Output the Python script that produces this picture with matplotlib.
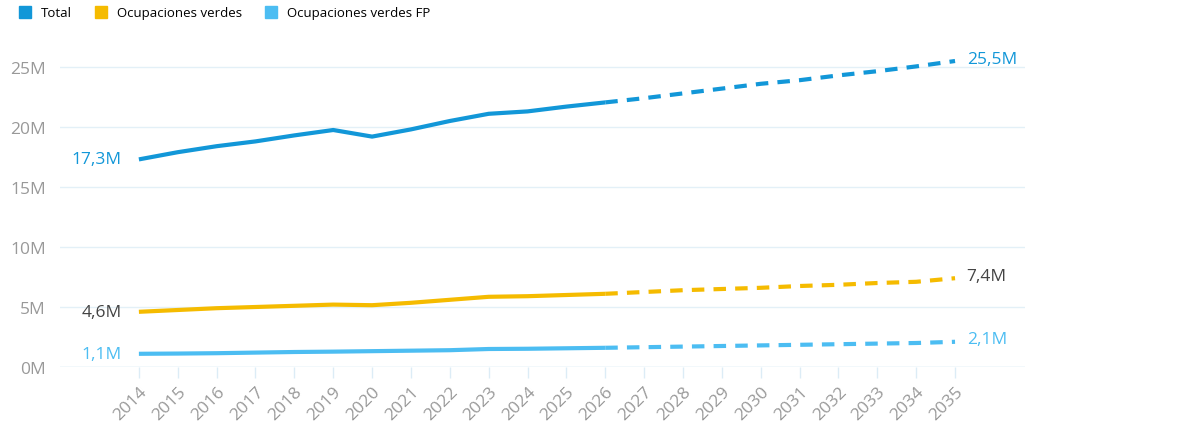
import matplotlib
matplotlib.use("Agg")
import matplotlib.pyplot as plt
from matplotlib.lines import Line2D

plt.rcParams['font.family'] = ['Open Sans', 'DejaVu Sans']

years = list(range(2014, 2036))
total = [17.3, 17.9, 18.4, 18.8, 19.3, 19.75, 19.2, 19.8, 20.5, 21.1, 21.3, 21.7, 22.05,
         22.4, 22.8, 23.2, 23.6, 23.9, 24.3, 24.65, 25.05, 25.5]
verdes = [4.6, 4.75, 4.9, 5.0, 5.1, 5.2, 5.15, 5.35, 5.6, 5.85, 5.9, 6.0, 6.1,
          6.25, 6.4, 6.5, 6.6, 6.75, 6.85, 7.0, 7.1, 7.4]
fp = [1.1, 1.12, 1.15, 1.2, 1.25, 1.28, 1.32, 1.36, 1.4, 1.5, 1.52, 1.56, 1.6,
      1.65, 1.7, 1.75, 1.8, 1.85, 1.9, 1.95, 2.0, 2.1]
names = ["Total", "Ocupaciones verdes", "Ocupaciones verdes FP"]
colors = ["#1297d8", "#f5bb00", "#4cbdf2"]
label_colors = ["#1297d8", "#444444", "#4cbdf2"]
split = 2026

fig = plt.figure(figsize=(11.8, 4.39), dpi=100)
ax = fig.add_axes([60/1180, 71/439, 965/1180, 318/439])
ax.set_xlim(2011.97, 2036.8)
ax.set_ylim(0, 26.5)

for vals, c, lc in zip([total, verdes, fp], colors, label_colors):
    i = years.index(split)
    ax.plot(years[:i+1], vals[:i+1], color=c, lw=3, solid_capstyle='butt')
    ax.plot(years[i:], vals[i:], color=c, lw=3, ls=(0, (3, 2.2)))
    ax.text(years[0] - 0.45, vals[0], f"{vals[0]:.1f}M".replace('.', ','), color=lc,
            fontsize=12.5, ha='right', va='center')
    ax.text(years[-1] + 0.3, vals[-1] + 0.2, f"{vals[-1]:.1f}M".replace('.', ','), color=lc,
            fontsize=12.5, ha='left', va='center')

ax.set_yticks([0, 5, 10, 15, 20, 25])
ax.set_yticklabels(["0M", "5M", "10M", "15M", "20M", "25M"])
ax.set_xticks(years)
ax.set_xticklabels([str(y) for y in years], rotation=45, ha='right', rotation_mode='anchor')
ax.tick_params(axis='y', colors='#999999', labelsize=12.5, length=0, pad=10)
ax.tick_params(axis='x', colors='#999999', labelsize=12.5, length=8, width=1,
               color='#dcecf6', pad=4)
ax.grid(axis='y', color='#e3f0f7', lw=1)
for s in ax.spines.values():
    s.set_visible(False)
ax.axhline(0, color='#d6eaf5', lw=1)
ax.set_axisbelow(True)

handles = [Line2D([], [], marker='s', ls='', color=c, markersize=8) for c in colors]
fig.legend(handles, names, loc='upper left', bbox_to_anchor=(0.0, 1.01), ncol=3,
           frameon=False, fontsize=9.5, handletextpad=0.2, columnspacing=1.2)

fig.savefig("out.png", dpi=100)
